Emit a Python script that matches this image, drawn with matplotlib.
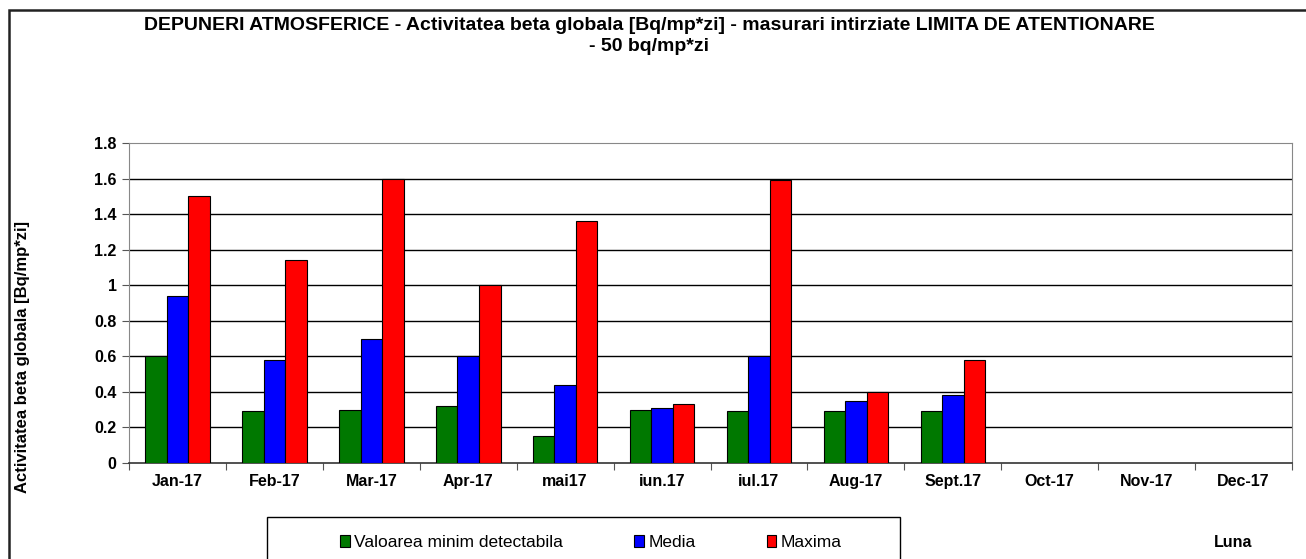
import matplotlib.pyplot as plt
import matplotlib
import numpy as np
from matplotlib.patches import Rectangle

matplotlib.rcParams.update({'font.family': ['Liberation Sans', 'DejaVu Sans'],
                            'font.weight': 'bold'})

months = ['Jan-17', 'Feb-17', 'Mar-17', 'Apr-17', 'mai17', 'iun.17',
          'iul.17', 'Aug-17', 'Sept.17', 'Oct-17', 'Nov-17', 'Dec-17']
min_detect = [0.60, 0.29, 0.30, 0.32, 0.15, 0.30, 0.29, 0.29, 0.29, 0, 0, 0]
media = [0.94, 0.58, 0.70, 0.60, 0.44, 0.31, 0.60, 0.35, 0.38, 0, 0, 0]
maxima = [1.50, 1.14, 1.60, 1.00, 1.36, 0.33, 1.59, 0.40, 0.58, 0, 0, 0]

series_l = [('Valoarea minim detectabila', min_detect, '#007800'),
            ('Media', media, '#0000ff'),
            ('Maxima', maxima, '#ff0000')]

fig = plt.figure(figsize=(13.06, 5.59), dpi=100)
ax = fig.add_axes([0.0988, 0.1717, 0.8905, 0.5725])

x_l = np.arange(len(months))
width = 0.222
handles = []
for i, (name, vals, color) in enumerate(series_l):
    vals = np.array(vals, dtype=float)
    pos = x_l + (i - 1) * width
    mask = vals > 0
    h = ax.bar(pos[mask], vals[mask], width, color=color, edgecolor='#000000',
               linewidth=0.8, label=name, zorder=3)
    handles.append(h)

ax.set_xlim(-0.5, len(months) - 0.5)
ax.set_ylim(0, 1.8)
ax.set_yticks(np.arange(0, 1.81, 0.2))
ax.set_yticklabels(['0', '0.2', '0.4', '0.6', '0.8', '1', '1.2', '1.4', '1.6', '1.8'])
for y in np.arange(0.2, 1.61, 0.2):
    ax.axhline(y, color='#000000', linewidth=1.0, zorder=1)

ax.set_xticks(np.arange(-0.5, len(months), 1.0))
ax.set_xticklabels([])
ax.set_xticks(x_l, minor=True)
ax.set_xticklabels(months, minor=True)
ax.tick_params(axis='x', which='major', direction='out', length=5, color='#555555')
ax.tick_params(axis='x', which='minor', length=0, pad=8, labelsize=11.5)
ax.tick_params(axis='y', direction='out', length=5, color='#555555', labelsize=11.5, pad=4)

for side in ['top', 'right', 'left']:
    ax.spines[side].set_color('#888888')
ax.spines['bottom'].set_color('#333333')
ax.spines['bottom'].set_linewidth(1.2)

ax.set_ylabel('Activitatea beta globala [Bq/mp*zi]', fontsize=12, fontweight='bold')
ax.yaxis.set_label_coords(-0.085, 0.331)

fig.text(0.497, 0.955, 'DEPUNERI ATMOSFERICE - Activitatea beta globala [Bq/mp*zi] - masurari intirziate LIMITA DE ATENTIONARE',
         ha='center', va='center', fontsize=14, fontweight='bold')
fig.text(0.497, 0.917, '- 50 bq/mp*zi', ha='center', va='center', fontsize=14, fontweight='bold')

fig.text(0.944, 0.03, 'Luna', ha='center', va='center', fontsize=11.5, fontweight='bold')

# outer chart frame and legend box
fig.add_artist(Rectangle((0.007, -0.1), 1.1, 1.083, transform=fig.transFigure,
                         fill=False, edgecolor='#222222', linewidth=1.8))
fig.add_artist(Rectangle((0.2045, -0.1), 0.4845, 0.175, transform=fig.transFigure,
                         fill=False, edgecolor='#000000', linewidth=1.0))
fig.legend(handles=handles, loc='center', bbox_to_anchor=(0.4525, 0.03), ncol=3,
           frameon=False, handlelength=0.55, handleheight=0.7, handletextpad=0.25,
           columnspacing=4.1, prop={'size': 12.5, 'weight': 'normal'})

plt.savefig('out.png', dpi=100)
